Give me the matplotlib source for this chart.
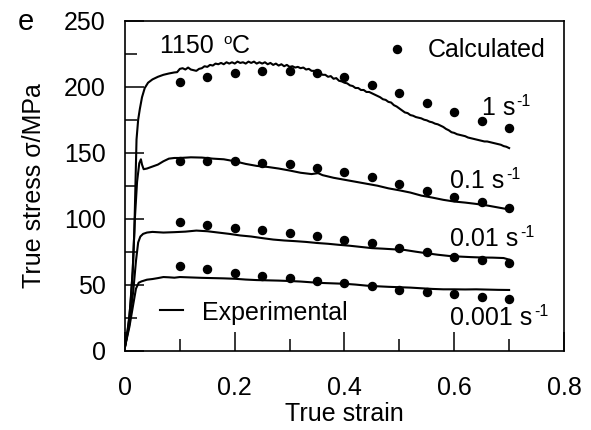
import matplotlib
matplotlib.use("Agg")
import matplotlib.pyplot as plt
from matplotlib.ticker import MultipleLocator

plt.rcParams['font.family'] = ['Liberation Sans', 'DejaVu Sans']

# ---------------- data ----------------
calc_strain = [0.10, 0.15, 0.20, 0.25, 0.30, 0.35, 0.40, 0.45, 0.50, 0.55, 0.60, 0.65, 0.70]
calc_1 = [203.8, 207.6, 210.6, 212.1, 212.1, 210.0, 207.0, 201.3, 195.0, 187.4, 180.6, 174.0, 168.5]
calc_01 = [144.0, 143.7, 143.7, 142.4, 141.2, 138.6, 135.0, 131.3, 126.3, 121.2, 116.7, 112.4, 108.3]
calc_001 = [97.2, 95.0, 93.2, 91.4, 89.4, 86.9, 84.2, 81.3, 77.6, 74.5, 71.2, 68.7, 66.2]
calc_0001 = [64.2, 61.6, 59.1, 56.6, 54.8, 52.8, 51.4, 49.0, 46.0, 44.2, 42.7, 40.9, 38.9]

exp1_strain = [0, 0.005, 0.010, 0.014, 0.017, 0.019, 0.021, 0.024, 0.027, 0.031, 0.036, 0.042,
               0.050, 0.060, 0.070, 0.080, 0.090, 0.095,
               0.100, 0.105, 0.110, 0.115, 0.120, 0.125, 0.130, 0.135, 0.140, 0.145,
               0.150, 0.155, 0.160, 0.165, 0.170, 0.175, 0.180, 0.185, 0.190, 0.195,
               0.200, 0.205, 0.210, 0.215, 0.220, 0.225, 0.230, 0.235, 0.240, 0.245,
               0.250, 0.255, 0.260, 0.265, 0.270, 0.275, 0.280, 0.285, 0.290, 0.295,
               0.300, 0.305, 0.310, 0.315, 0.320, 0.325, 0.330, 0.335, 0.340, 0.345,
               0.350, 0.355, 0.360, 0.365, 0.370, 0.375, 0.380, 0.385, 0.390, 0.395,
               0.400, 0.405, 0.410, 0.415, 0.420, 0.425, 0.430, 0.435, 0.440, 0.445,
               0.450, 0.455, 0.460, 0.465, 0.470, 0.475, 0.480, 0.485, 0.490, 0.495,
               0.500, 0.505, 0.510, 0.515, 0.520, 0.525, 0.530, 0.535, 0.540, 0.545,
               0.550, 0.555, 0.560, 0.565, 0.570, 0.575, 0.580, 0.585, 0.590, 0.595,
               0.600, 0.605, 0.610, 0.615, 0.620, 0.625, 0.630, 0.635, 0.640, 0.645,
               0.650, 0.655, 0.660, 0.665, 0.670, 0.675, 0.680, 0.685, 0.690, 0.695, 0.700]
exp1_stress = [3, 15, 35, 60, 90, 125, 160, 175, 183, 192, 199, 203,
               205.5, 207.5, 209, 210, 210.8, 211,
               213.5, 214, 213, 214.5, 213, 212.5, 212, 213.5, 214, 215.5,
               215, 216.5, 216, 217.5, 217, 218, 217, 218.5, 217.5, 218.5,
               217.5, 219, 218, 218.5, 217.5, 219, 218, 219, 217.5, 218.5,
               217.5, 218.5, 217, 218, 216.5, 217.5, 216, 217, 215.5, 216.5,
               215, 215.5, 214.5, 215, 214, 214.5, 213, 213.5, 212, 212,
               210.5, 210.5, 209, 209, 207.5, 208, 206, 206.5, 204.5, 204,
               203, 202.5, 201, 200.5, 199, 199, 197.5, 197.5, 196, 196,
               195, 194, 193, 192, 190.5, 190, 188.5, 188, 186, 185,
               183.5, 182, 180.5, 180, 178.5, 178, 177, 176.5, 176, 175,
               174.5, 173.5, 173, 172, 171.5, 170.5, 169.5, 168, 167, 165.5,
               165, 164, 163.5, 163, 162.5, 161.5, 161, 160.5, 160, 159.5,
               159, 158.5, 158.5, 158, 157.5, 157, 156.5, 156, 155, 154.5, 153.5]

exp01_strain = [0, 0.008, 0.014, 0.018, 0.022, 0.026, 0.029, 0.031, 0.034, 0.040, 0.050, 0.060,
                0.070, 0.080, 0.090, 0.100, 0.120, 0.140, 0.160, 0.180, 0.200, 0.220, 0.240,
                0.260, 0.280, 0.300, 0.320, 0.340, 0.352, 0.360, 0.380, 0.400, 0.420, 0.440,
                0.460, 0.480, 0.500, 0.520, 0.540, 0.560, 0.580, 0.600, 0.620, 0.640, 0.660,
                0.680, 0.700]
exp01_stress = [3, 25, 60, 100, 128, 142, 145, 141, 137.5, 138, 139.5, 141,
                143.5, 145.5, 146, 146, 146.5, 146.3, 145.5, 145, 143.5, 141.5, 140,
                139.2, 138, 136.5, 134.8, 133.8, 134.5, 133, 131, 129.5, 128, 126.5,
                125, 123, 121.5, 119.8, 117.5, 116, 114.3, 113, 112.2, 111.2, 110,
                108.5, 107]

exp001_strain = [0, 0.008, 0.015, 0.020, 0.024, 0.028, 0.033, 0.040, 0.050, 0.070, 0.090, 0.110,
                 0.130, 0.150, 0.170, 0.190, 0.210, 0.230, 0.250, 0.270, 0.290, 0.310, 0.330,
                 0.350, 0.370, 0.390, 0.410, 0.430, 0.450, 0.470, 0.490, 0.510, 0.530, 0.550,
                 0.570, 0.590, 0.610, 0.630, 0.650, 0.670, 0.690, 0.700]
exp001_stress = [3, 20, 45, 68, 82, 86.5, 88.5, 89.5, 90, 89.5, 89.8, 90.2,
                 91, 90.5, 89.5, 88.5, 87.3, 86.5, 85.3, 84.2, 83.5, 83, 82.4,
                 81.6, 81, 80.2, 79.5, 78.6, 77.7, 77.3, 76.8, 76.3, 75, 73.8,
                 72.7, 71.8, 71.3, 70.9, 70.6, 70.5, 70.2, 69]

exp0001_strain = [0, 0.008, 0.015, 0.020, 0.025, 0.030, 0.040, 0.050, 0.060, 0.070, 0.080, 0.090,
                  0.100, 0.120, 0.140, 0.160, 0.180, 0.200, 0.220, 0.240, 0.260, 0.280, 0.300,
                  0.320, 0.340, 0.360, 0.380, 0.400, 0.420, 0.440, 0.460, 0.480, 0.500, 0.520,
                  0.540, 0.560, 0.580, 0.600, 0.620, 0.640, 0.660, 0.680, 0.700]
exp0001_stress = [3, 18, 35, 47, 51.5, 52.5, 53.8, 54.3, 55, 55.8, 55.6, 55.3,
                  55.8, 55.5, 55.2, 55, 54.8, 54.5, 53.9, 53.5, 53.3, 53.1, 52.8,
                  52.4, 51.8, 51.3, 51, 50.7, 50.1, 49.3, 48.8, 48.4, 48.1, 47.8,
                  47.3, 46.8, 46.5, 46.5, 46.4, 46.5, 46.3, 46.1, 46]

rate_labels = ['1 s', '0.1 s', '0.01 s', '0.001 s']
x_ticks = [0, 0.2, 0.4, 0.6, 0.8]
x_tick_labels = ['0', '0.2', '0.4', '0.6', '0.8']
y_ticks = [0, 50, 100, 150, 200, 250]

# ---------------- figure ----------------
DPI = 100
fig = plt.figure(figsize=(5.91, 4.30), dpi=DPI)
ax = fig.add_axes([0.2115, 0.1844, 0.9543 - 0.2115, 0.9519 - 0.1844])

lw = 1.5
for xs, ys in [(exp1_strain, exp1_stress), (exp01_strain, exp01_stress),
               (exp001_strain, exp001_stress), (exp0001_strain, exp0001_stress)]:
    ax.plot(xs, ys, color='black', lw=lw, solid_joinstyle='round')

for ys in [calc_1, calc_01, calc_001, calc_0001]:
    ax.plot(calc_strain, ys, 'o', color='black', ms=5.8, mec='black', zorder=3)

ax.set_xlim(0, 0.8)
ax.set_ylim(0, 250)
ax.set_xticks(x_ticks)
ax.set_xticklabels(x_tick_labels)
ax.set_yticks(y_ticks)
ax.xaxis.set_minor_locator(MultipleLocator(0.1))
ax.yaxis.set_minor_locator(MultipleLocator(25))
fs = 18
ax.tick_params(which='major', direction='in', length=13.7, width=1.1, labelsize=fs,
               top=False, right=False)
ax.tick_params(which='minor', direction='in', length=8.6, width=1.1, top=False, right=False)
ax.tick_params(axis='x', which='major', pad=18)
ax.tick_params(axis='y', which='major', pad=14)
for s in ax.spines.values():
    s.set_linewidth(1.2)

ax.set_xlabel('True strain', fontsize=fs, labelpad=1.5)
ax.set_ylabel('True stress σ/MPa', fontsize=fs, labelpad=13)

fig.canvas.draw()
renderer = fig.canvas.get_renderer()


def text_with_sup(x, y, base, sup, rise=6.5, sup_fs=11.5):
    t = ax.text(x, y, base, fontsize=fs, ha='left', va='baseline')
    bb = t.get_window_extent(renderer=renderer)
    w_pt = bb.width * 72.0 / DPI
    ax.annotate(sup, xy=(x, y), xycoords='data', xytext=(w_pt + 0.8, rise),
                textcoords='offset points', fontsize=sup_fs, ha='left', va='baseline')
    return t


t1150 = ax.text(0.064, 225.5, '1150 ', fontsize=fs, ha='left', va='baseline')
bb = t1150.get_window_extent(renderer=renderer)
w = bb.width * 72.0 / DPI
ax.annotate('o', xy=(0.064, 225.5), xycoords='data', xytext=(w + 1.5, 6.5),
            textcoords='offset points', fontsize=11, ha='left', va='baseline')
ax.annotate('C', xy=(0.064, 225.5), xycoords='data', xytext=(w + 7.5, 0),
            textcoords='offset points', fontsize=fs, ha='left', va='baseline')

ax.plot([0.495], [228.6], 'o', color='black', ms=5.8)
ax.text(0.551, 222.5, 'Calculated', fontsize=fs, ha='left', va='baseline')
ax.plot([0.064, 0.105], [30.8, 30.8], color='black', lw=lw)
ax.text(0.14, 23.3, 'Experimental', fontsize=fs, ha='left', va='baseline')

text_with_sup(0.651, 178.6, rate_labels[0], '-1')
text_with_sup(0.593, 123.2, rate_labels[1], '-1')
text_with_sup(0.593, 79.3, rate_labels[2], '-1')
text_with_sup(0.593, 19.5, rate_labels[3], '-1')

fig.text(0.043, 0.950, 'e', fontsize=21, ha='center', va='center')

fig.savefig('out.png', dpi=DPI)
